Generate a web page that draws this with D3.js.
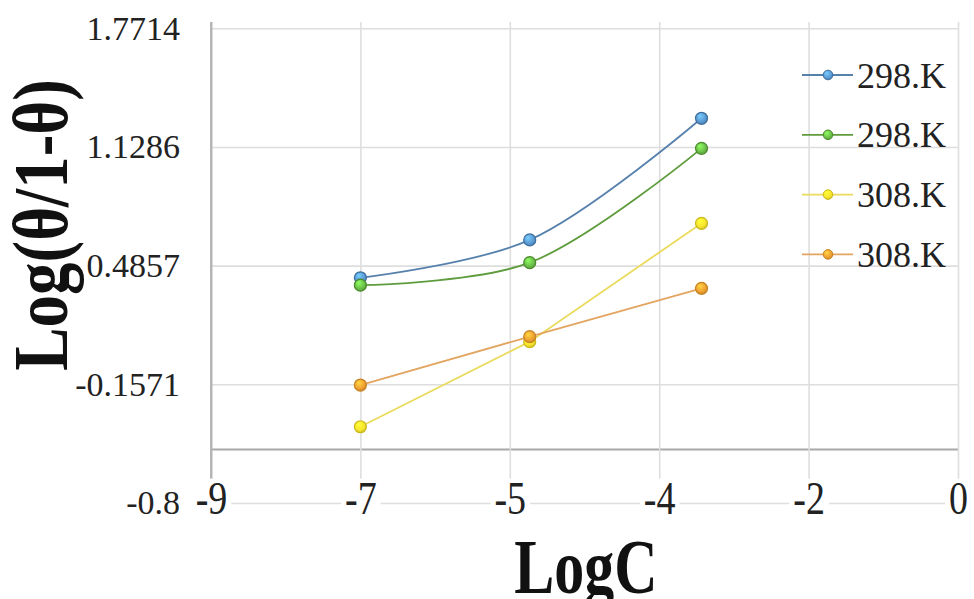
<!DOCTYPE html>
<html>
<head>
<meta charset="utf-8">
<script src="https://cdn.jsdelivr.net/npm/d3@7"></script>
<style>
  body { margin: 0; background: #fff; }
</style>
</head>
<body>
<div id="chart"></div>
<script>
// data
const logC = [-7.2, -5.16, -3.09]
const seriesNames = ['298.K', '298.K', '308.K', '308.K']
const blueVals = [0.42, 0.625, 1.284]
const greenVals = [0.38, 0.502, 1.121]
const yellowVals = [-0.387, 0.074, 0.715]
const orangeVals = [-0.161, 0.101, 0.363]
const xTicks = [-9, -7.2, -5.4, -3.6, -1.8, 0]
const yTicks = [-0.8, -0.1571, 0.4857, 1.1286, 1.7714]
const xCross = -0.51

// styles
const lineColors = ['#5781ad', '#5f9c3d', '#eadb5c', '#e3a560']
const fillColors = ['#5b9bd5', '#6cc04a', '#f7e52c', '#f0a232']
const edgeColors = ['#3f6f9e', '#4b8a2c', '#c9b81c', '#c78322']
const smooth = [true, true, false, false]

const width = 974
const height = 599
const serif = '"Liberation Serif", "Times New Roman", serif'

const x = d3.scaleLinear().domain([-9, 0]).range([211, 958])
const y = d3.scaleLinear().domain([-0.8, 1.7714]).range([503, 28.3])
const plotTop = 22

const svg = d3.select('#chart').append('svg')
  .attr('width', width)
  .attr('height', height)
  .style('display', 'block')

const defs = svg.append('defs')
fillColors.forEach(function (c, i) {
  const g = defs.append('radialGradient')
    .attr('id', 'mk' + i)
    .attr('cx', '45%').attr('cy', '40%').attr('r', '60%')
    .attr('fx', '35%').attr('fy', '30%')
  g.append('stop').attr('offset', '0%').attr('stop-color', d3.color(c).brighter(0.8))
  g.append('stop').attr('offset', '70%').attr('stop-color', c)
  g.append('stop').attr('offset', '100%').attr('stop-color', d3.color(c).darker(0.5))
})

// horizontal grid + y labels
const yAxis = svg.append('g')
  .attr('transform', 'translate(' + x(-9) + ',0)')
  .call(d3.axisLeft(y).tickValues(yTicks).tickFormat(d => String(d))
    .tickSize(-(x(0) - x(-9))).tickPadding(31))
yAxis.select('.domain').remove()
yAxis.selectAll('line').attr('stroke', '#dedede').attr('stroke-width', 1.6)
yAxis.selectAll('text')
  .attr('font-family', serif)
  .attr('font-size', 34)
  .attr('fill', '#222')

// axis lines
svg.append('line')
  .attr('x1', x(-9)).attr('x2', x(-9))
  .attr('y1', plotTop).attr('y2', y(-0.8))
  .attr('stroke', '#b5b5b5').attr('stroke-width', 2)
svg.append('line')
  .attr('x1', x(-9)).attr('x2', x(0))
  .attr('y1', y(xCross)).attr('y2', y(xCross))
  .attr('stroke', '#a8a8a8').attr('stroke-width', 2)

// vertical grid + x labels (white boxes behind labels)
const xAxis = svg.append('g')
  .attr('transform', 'translate(0,' + y(-0.8) + ')')
  .call(d3.axisBottom(x).tickValues(xTicks).tickFormat(d => String(Math.round(d)))
    .tickSize(-(y(-0.8) - plotTop)))
xAxis.select('.domain').remove()
xAxis.selectAll('line').attr('stroke', '#dedede').attr('stroke-width', 1.6)
xAxis.selectAll('.tick line').filter(d => d === -9).attr('stroke', '#b5b5b5').attr('stroke-width', 2)
xAxis.selectAll('text')
  .attr('font-family', serif)
  .attr('font-size', 38)
  .attr('fill', '#222')
  .attr('dy', 0)
  .attr('y', 11 / 1.2)
  .attr('transform', 'scale(1,1.2)')
xAxis.selectAll('.tick').each(function () {
  const t = d3.select(this).select('text')
  const b = t.node().getBBox()
  d3.select(this).insert('rect', 'text')
    .attr('x', b.x - 4).attr('y', b.y + 4)
    .attr('width', b.width + 8).attr('height', b.height)
    .attr('fill', '#fff')
    .attr('transform', 'scale(1,1.2)')
})

// series
const allVals = [blueVals, greenVals, yellowVals, orangeVals]
const series = allVals.map(function (vals, i) {
  return { name: seriesNames[i], i: i, pts: vals.map((v, j) => [logC[j], v]) }
})

series.forEach(function (s) {
  const line = d3.line()
    .x(d => x(d[0]))
    .y(d => y(d[1]))
    .curve(smooth[s.i] ? d3.curveCatmullRom.alpha(0.5) : d3.curveLinear)
  svg.append('path')
    .attr('d', line(s.pts))
    .attr('fill', 'none')
    .attr('stroke', lineColors[s.i])
    .attr('stroke-width', 1.8)
})

series.forEach(function (s) {
  svg.append('g').selectAll('circle')
    .data(s.pts)
    .enter().append('circle')
    .attr('cx', d => x(d[0]))
    .attr('cy', d => y(d[1]))
    .attr('r', 6)
    .attr('fill', 'url(#mk' + s.i + ')')
    .attr('stroke', edgeColors[s.i])
    .attr('stroke-width', 1.2)
})

// legend
const legend = svg.append('g')
  .selectAll('g')
  .data(series)
  .enter().append('g')
  .attr('transform', (d, i) => 'translate(802,' + (75 + i * 59.8) + ')')
legend.append('line')
  .attr('x1', 0).attr('x2', 51)
  .attr('stroke', d => lineColors[d.i])
  .attr('stroke-width', 1.8)
legend.append('circle')
  .attr('cx', 26).attr('r', 4.8)
  .attr('fill', d => 'url(#mk' + d.i + ')')
  .attr('stroke', d => edgeColors[d.i])
  .attr('stroke-width', 1)
legend.append('text')
  .attr('x', 55).attr('y', 12.5)
  .attr('font-family', serif)
  .attr('font-size', 36)
  .attr('fill', '#222')
  .text(d => d.name)

// axis titles
svg.append('text')
  .attr('transform', 'translate(586,593) scale(1,1.3)')
  .attr('text-anchor', 'middle')
  .attr('font-family', serif)
  .attr('font-weight', 'bold')
  .attr('font-size', 60)
  .attr('fill', '#111')
  .text('LogC')

svg.append('text')
  .attr('transform', 'translate(67,225) rotate(-90) scale(1,1.2)')
  .attr('text-anchor', 'middle')
  .attr('font-family', serif)
  .attr('font-weight', 'bold')
  .attr('font-size', 65)
  .attr('fill', '#111')
  .text('Log(θ/1-θ)')
</script>
</body>
</html>
